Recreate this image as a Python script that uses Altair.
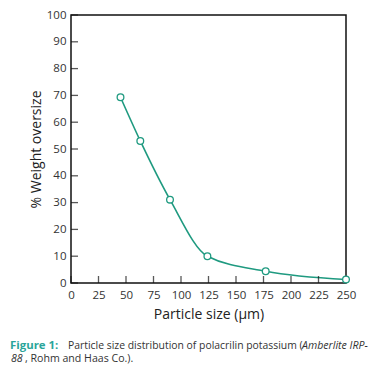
import altair as alt
import pandas as pd

size_um = [45, 63, 90, 124, 177, 250]
weight_oversize = [69.3, 53.0, 31.1, 10.0, 4.4, 1.3]
x_ticks = [0, 25, 50, 75, 100, 125, 150, 175, 200, 225, 250]
y_ticks = [0, 10, 20, 30, 40, 50, 60, 70, 80, 90, 100]

FONT = "Open Sans"
TEAL = "#1f9a80"
W, H = 275, 268

df = pd.DataFrame({"size": size_um, "w": weight_oversize})
xt = pd.DataFrame({"t": x_ticks})
yt = pd.DataFrame({"t": y_ticks})

xs = alt.Scale(domain=[0, 250], nice=False, zero=False)
ys = alt.Scale(domain=[0, 100], nice=False)

xaxis = alt.Axis(values=x_ticks, tickCount=11, ticks=False, domain=False, grid=False,
                 labelFlush=False, labelOverlap=False,
                 labelPadding=6, labelFontSize=11.5, labelColor="#333",
                 title="Particle size (μm)", titleFontSize=14, titleFontWeight="normal",
                 titleColor="#222", titlePadding=7, labelFont=FONT, titleFont=FONT)
yaxis = alt.Axis(values=y_ticks, tickCount=11, ticks=False, domain=False, grid=False,
                 labelFlush=False, labelOverlap=False,
                 labelPadding=5, labelFontSize=11.5, labelColor="#333",
                 title="% Weight oversize", titleFontSize=14, titleFontWeight="normal",
                 titleColor="#222", titlePadding=3, labelFont=FONT, titleFont=FONT)

line = alt.Chart(df).mark_line(color=TEAL, strokeWidth=1.6, interpolate="monotone").encode(
    x=alt.X("size:Q", scale=xs, axis=xaxis),
    y=alt.Y("w:Q", scale=ys, axis=yaxis),
)
pts = alt.Chart(df).mark_point(shape="circle", filled=True, fill="white", stroke=TEAL,
                               strokeWidth=1.3, size=45, opacity=1).encode(
    x=alt.X("size:Q", scale=xs, axis=None), y=alt.Y("w:Q", scale=ys, axis=None))

xtick = alt.Chart(xt).mark_tick(orient="vertical", size=7, thickness=1.3, color="#111").encode(
    x=alt.X("t:Q", scale=xs, axis=None), y=alt.value(H - 3.5))
ytick = alt.Chart(yt).mark_tick(orient="horizontal", size=7, thickness=1.3, color="#111").encode(
    y=alt.Y("t:Q", scale=ys, axis=None), x=alt.value(3.5))

cap_y1, cap_y2 = 331, 344
def seg(txt, x, y, color="#333", weight="normal", style="normal", fs=10.6):
    return alt.Chart(pd.DataFrame({"s": [txt]})).mark_text(
        align="left", baseline="middle", font=FONT, fontSize=fs, color=color,
        fontWeight=weight, fontStyle=style).encode(
        text="s:N", x=alt.value(x), y=alt.value(y))

caption = [
    seg("Figure 1:", -61, cap_y1, color="#2aa59a", weight="bold", fs=11.4),
    seg("Particle size distribution of polacrilin potassium (", -3, cap_y1, fs=10.4),
    seg("Amberlite IRP-", 231, cap_y1, style="italic", fs=10.6),
    seg("88", -60, cap_y2, style="italic"),
    seg(", Rohm and Haas Co.).", -46, cap_y2),
]

chart = alt.layer(line, xtick, ytick, pts, *caption).resolve_axis(
    x="independent", y="independent"
).properties(
    width=W, height=H,
    autosize=alt.AutoSizeParams(type="none"),
    padding={"left": 63, "top": 7, "right": 33, "bottom": 81},
    background="white",
).configure_view(stroke="#111", strokeWidth=1.5)

chart.save("out.html", embed_options={"renderer": "svg", "actions": False})
